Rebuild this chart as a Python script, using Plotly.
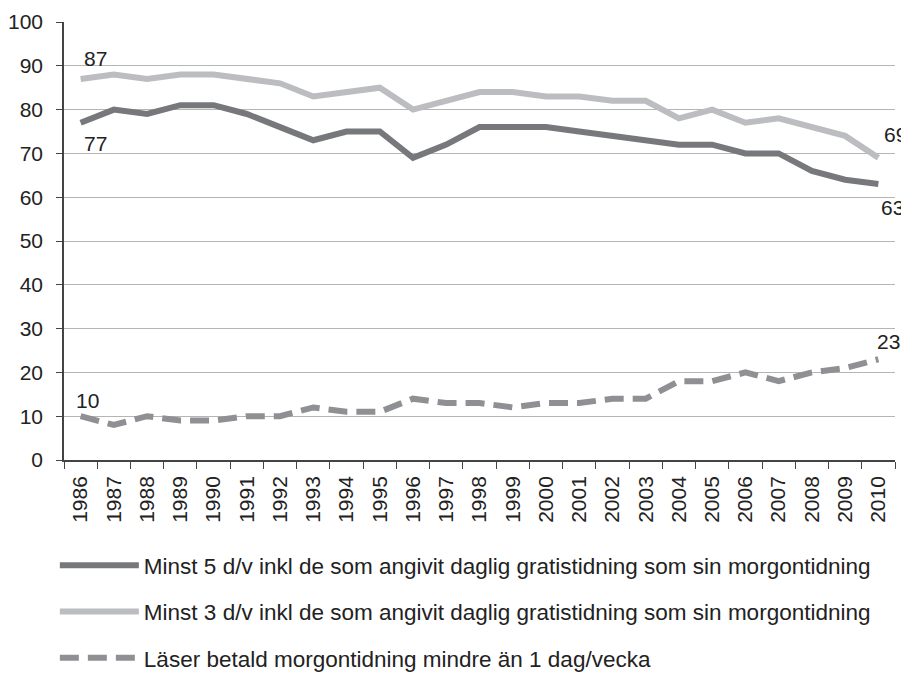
import plotly.graph_objects as go

years = list(range(1986, 2011))
minst5 = [77, 80, 79, 81, 81, 79, 76, 73, 75, 75, 69, 72, 76, 76, 76, 75, 74, 73, 72, 72, 70, 70, 66, 64, 63]
minst3 = [87, 88, 87, 88, 88, 87, 86, 83, 84, 85, 80, 82, 84, 84, 83, 83, 82, 82, 78, 80, 77, 78, 76, 74, 69]
betald = [10, 8, 10, 9, 9, 10, 10, 12, 11, 11, 14, 13, 13, 12, 13, 13, 14, 14, 18, 18, 20, 18, 20, 21, 23]

names = [
    "Minst 5 d/v inkl de som angivit daglig gratistidning som sin morgontidning",
    "Minst 3 d/v inkl de som angivit daglig gratistidning som sin morgontidning",
    "Läser betald morgontidning mindre än 1 dag/vecka",
]

font = "Liberation Sans, Arial, Helvetica, sans-serif"

fig = go.Figure()
fig.add_trace(go.Scatter(x=years, y=minst5, mode="lines", name=names[0], legendgroup="a",
                         line=dict(color="#77787b", width=6)))
fig.add_trace(go.Scatter(x=years, y=minst3, mode="lines", name=names[1], legendgroup="b",
                         line=dict(color="#bcbdc0", width=6)))
fig.add_trace(go.Scatter(x=years, y=betald, mode="lines", name=names[2], legendgroup="c",
                         line=dict(color="#8f9093", width=6, dash="19px,9px")))

# end-point labels: (x, y, text, xshift, yshift)
labels = [
    (years[0], minst3[0], "87", 15, 20),
    (years[0], minst5[0], "77", 15, -21),
    (years[0], betald[0], "10", 7, 16),
    (years[-1], minst3[-1], "69", 17, 23),
    (years[-1], minst5[-1], "63", 14, -23),
    (years[-1], betald[-1], "23", 10, 18),
]
annots = []
for x, y, t, dx, dy in labels:
    annots.append(dict(x=x, y=y, xref="x", yref="y", text=t, showarrow=False,
                       xanchor="center", yanchor="middle", xshift=dx, yshift=dy,
                       font=dict(family=font, size=21, color="#222")))

fig.update_layout(
    width=909, height=720,
    margin=dict(l=56, r=22, t=14, b=268),
    paper_bgcolor="white", plot_bgcolor="white",
    font=dict(family=font, size=20, color="#222"),
    showlegend=True,
    annotations=annots,
    legend=dict(x=-0.011, y=-0.192, xanchor="left", yanchor="top",
                orientation="v", itemwidth=79, tracegroupgap=14,
                font=dict(family=font, size=22.5, color="#222")),
)
fig.update_xaxes(range=[1985.5, 2010.5], tickmode="array", tickvals=years,
                 ticktext=[str(y) for y in years], ticks="", tickangle=-90,
                 minor=dict(ticks="outside", tick0=1985.5, dtick=1, ticklen=7, tickcolor="#444", showgrid=False),
                 showline=True, linecolor="#444", linewidth=1.5, showgrid=False, zeroline=False,
                 ticklabelstandoff=6, automargin=False,
                 tickfont=dict(family=font, size=21, color="#222"))
fig.update_yaxes(range=[0, 100], dtick=10, ticks="outside", ticklen=6, tickcolor="#444",
                 showline=True, linecolor="#444", linewidth=1.5,
                 showgrid=True, gridcolor="#b5b5b5", gridwidth=1, zeroline=False,
                 ticklabelstandoff=9, automargin=False,
                 tickfont=dict(family=font, size=21, color="#222"))

fig.write_html("out.html")
